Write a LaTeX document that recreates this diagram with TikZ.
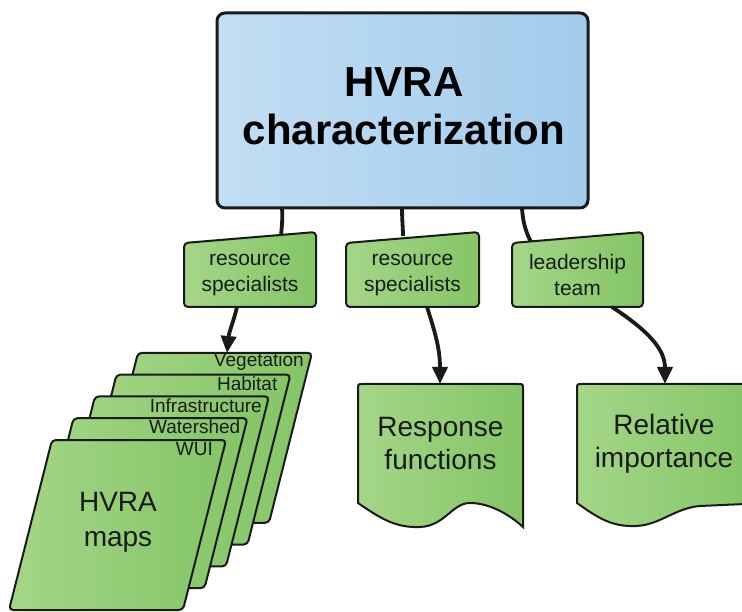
\documentclass[tikz,border=0pt]{standalone}
\usepackage{fontspec}
\setmainfont{Liberation Sans}
\usetikzlibrary{arrows.meta}
\definecolor{blueL}{HTML}{C2DEF3}
\definecolor{blueR}{HTML}{A2CBEC}
\definecolor{greenL}{HTML}{A4D687}
\definecolor{greenR}{HTML}{84C566}
\definecolor{edge}{HTML}{1A1A1A}
\begin{document}
\begin{tikzpicture}[x=1pt,y=-1pt,
  gshade/.style={left color=greenL,right color=greenR,draw=edge,line width=2pt},
  gbox/.style={gshade,rounded corners=4pt},
  conn/.style={line width=3.8pt,draw=edge},
  arr/.style={conn,-{Triangle[length=17pt,width=15pt]}},
  labtext/.style={font=\fontsize{21}{26}\selectfont,align=center,text=edge,inner sep=0pt},
  doctext/.style={font=\fontsize{28}{33}\selectfont,align=center,text=edge,inner sep=0pt},
  sheettext/.style={font=\fontsize{19}{22}\selectfont,text=edge,inner sep=0pt,anchor=east}]
\useasboundingbox (0,0) rectangle (742,612);
\clip (0,0) rectangle (742,612);

% main box
\node[draw=edge,line width=3pt,rounded corners=8pt,left color=blueL,right color=blueR,
      minimum width=371pt,minimum height=195pt,inner sep=0pt] (main) at (402.5,110.5) {};
\node[font=\bfseries\fontsize{42}{48}\selectfont,align=center,text=black,inner sep=0pt] (title) at (404,106) {HVRA\\characterization};

% connector end points
\coordinate (m1) at (282,208);
\coordinate (m2) at (402,208);
\coordinate (m3) at (522,208);
\coordinate (t1) at (281,240);
\coordinate (t2) at (403,236);
\coordinate (t3) at (531,242);

\draw[conn] (m1) .. controls (283,222) and (281,230) .. (t1);
\draw[conn] (m2) .. controls (402,220) and (403,228) .. (t2);
\draw[conn] (m3) .. controls (523,225) and (527,234) .. (t3);

% label boxes
\path[gbox] (184,243) -- (184,307) -- (316,307) -- (316,232) -- cycle;
\path[gbox] (346,243) -- (346,307) -- (479,307) -- (479,232) -- cycle;
\path[gbox] (512,243) -- (512,307) -- (643,307) -- (643,232) -- cycle;
\node[labtext] (lab1) at (250,275) {resource\\specialists};
\node[labtext] (lab2) at (412.5,275) {resource\\specialists};
\node[labtext] (lab3) at (577.5,275) {leadership\\team};

% stack of map sheets (back to front)
\foreach \i/\lab/\off in {4/Vegetation/8,3/Habitat/13,2/Infrastructure/7,1/Watershed/7,0/WUI/13}{
  \pgfmathsetmacro\xx{52+21.5*\i}
  \pgfmathsetmacro\yy{440-21.8*\i}
  \path[gbox] (\xx,\yy) -- ++(174,0) -- ++(-43,170) -- ++(-174,0) -- cycle;
  \node[sheettext] (s\i) at (\xx+174-\off,\yy+9) {\lab};
}
\node[doctext,font=\fontsize{28}{35}\selectfont] (maps) at (118,522) {HVRA\\maps};
\coordinate (vegTop) at (227,353);

% document shapes
\path[gshade] (358,503) -- (358,389) .. controls (358,384) .. (363,384) -- (518,384)
   .. controls (523,384) .. (523,389) -- (523,527)
   .. controls (510,515) and (490,503) .. (470,503)
   .. controls (452,503) and (445,526) .. (420,527)
   .. controls (395,528) and (380,518) .. (358,503) -- cycle;
\node[doctext] (resp) at (440.5,443.5) {Response\\functions};
\coordinate (respTop) at (440,384);

\path[gshade] (577,503) -- (577,389) .. controls (577,384) .. (582,384) -- (760,384)
   -- (760,503) -- (745,504) -- (700,506)
   .. controls (675,508) and (660,525) .. (636,526)
   .. controls (612,527) and (598,518) .. (577,503) -- cycle;
\node[doctext] (rel) at (664,443.5) {Relative\\importance};
\coordinate (relTop) at (665,384);

% arrows
\coordinate (b1) at (237,307);
\coordinate (b2) at (427,307);
\coordinate (b3) at (612,307);
\draw[arr] (b1) .. controls (234,320) and (229,332) .. (vegTop);
\draw[arr] (b2) .. controls (436,335) and (440,350) .. (respTop);
\draw[arr] (b3) .. controls (650,332) and (665,350) .. (relTop);
\end{tikzpicture}
\end{document}
